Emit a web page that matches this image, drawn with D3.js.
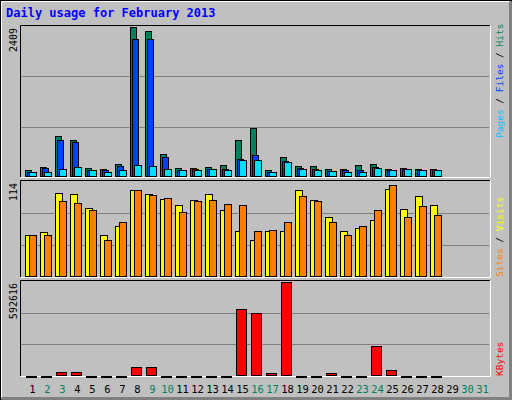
<!DOCTYPE html>
<html><head><meta charset="utf-8">
<script src="https://cdn.jsdelivr.net/npm/d3@7"></script>
<style>body{margin:0;background:#fff}svg text{font-family:"DejaVu Sans Mono",monospace}</style>
</head><body>
<svg id="c" width="512" height="400"></svg>
<script>
const days = d3.range(1, 32);
const weekend = [2,3,9,10,16,17,23,24,30,31];
const hits  = [112,160,660,595,145,128,210,2409,2345,370,145,145,160,193,595,787,112,321,177,177,128,128,193,210,128,145,128,128];
const files = [85,140,595,562,112,112,177,2216,2216,321,112,128,128,128,290,353,85,257,145,128,96,112,112,160,112,128,112,112];
const pages = [80,80,128,160,112,80,112,193,177,128,112,112,128,112,273,273,80,241,128,112,96,80,80,145,112,128,112,112];
const visits = [51,54,101,100,83,50,61,105,100,94,86,92,100,80,55,45,55,55,105,92,72,55,59,68,106,82,97,86];
const sites  = [50,50,91,89,80,45,66,105,99,95,78,91,93,88,87,55,57,66,97,91,66,50,61,80,110,72,85,75];
const kbytes = [2000,2000,25800,25800,2000,2000,2000,58000,58000,2000,2000,2000,2000,2000,425000,399000,19300,592616,2000,2000,19300,2000,2000,186800,38600,2000,2000,2000];
const maxHits = 2409, maxVisits = 114, maxKB = 592616;

const svg = d3.select("#c");
svg.append("rect").attr("x",0).attr("y",0).attr("width",512).attr("height",400).attr("fill","#c0c0c0");
svg.append("rect").attr("x",0.5).attr("y",0.5).attr("width",511).attr("height",399).attr("fill","none").attr("stroke","#000");
svg.append("path").attr("d","M1.5,398.5V1.5H510.5").attr("stroke","#fff").attr("fill","none");
svg.append("path").attr("d","M1.5,398.5H510.5V1.5").attr("stroke","#808080").attr("stroke-width",3).attr("fill","none");
svg.append("text").attr("x",6).attr("y",17).attr("fill","#0000ff").attr("font-weight","bold").attr("font-size",12).text("Daily usage for February 2013");

const x = d3.scaleBand().domain(days).range([25,490]);
function panel(y0,y1,max,label){
  const y = d3.scaleLinear().domain([0,max]).range([y1,y0+2]);
  svg.append("rect").attr("x",20).attr("y",y0).attr("width",470).attr("height",y1-y0).attr("fill","#c0c0c0");
  const g = [1,2].map(i=>y1-(y1-y0-1)*i/3);
  g.forEach(v=>svg.append("line").attr("x1",21).attr("x2",489).attr("y1",Math.round(v)+0.5).attr("y2",Math.round(v)+0.5).attr("stroke","#808080"));
  svg.append("path").attr("d",`M20.5,${y1}V${y0+0.5}H490`).attr("stroke","#000").attr("fill","none");
  svg.append("path").attr("d",`M20.5,${y1+0.5}H490.5V${y0}`).attr("stroke","#fff").attr("fill","none");
  svg.append("text").attr("transform",`translate(17,${y0+3}) rotate(-90)`).attr("text-anchor","end").attr("font-size",10).attr("fill","#000").text(label);
  return y;
}
function bars(arr,y,y1,off,w,color){
  svg.append("g").selectAll("rect").data(arr).join("rect")
    .attr("x",(d,i)=>Math.round(x(i+1))+off+0.5).attr("width",w)
    .attr("y",d=>Math.round(y(d))+0.5).attr("height",d=>Math.max(1,y1-Math.round(y(d))-1))
    .attr("fill",color).attr("stroke","#000").attr("shape-rendering","crispEdges");
}
const yt = panel(25,177,maxHits,String(maxHits));
bars(hits,yt,177,0,6,"#00805c");
bars(files,yt,177,2,6,"#0040ff");
bars(pages,yt,177,4,7,"#00e0ff");
const ym = panel(180,277,maxVisits,String(maxVisits));
bars(visits,ym,277,0,7,"#ffff00");
bars(sites,ym,277,4,7,"#ff8000");
const yb = panel(280,376,maxKB,String(maxKB));
bars(kbytes,yb,376,1,10,"#ff0000");

function rlab(y,parts){
  const t = svg.append("text").attr("transform",`translate(503,${y}) rotate(-90)`).attr("font-size",9.5);
  parts.forEach(p=>t.append("tspan").attr("fill",p[1]).text(p[0]));
}
rlab(138,[["Pages","#00c0ff"],[" / ","#000"],["Files","#0040ff"],[" / ","#000"],["Hits","#00805c"]]);
rlab(277,[["Sites","#ff8000"],[" / ","#000"],["Visits","#ffff00"]]);
rlab(376,[["KBytes","#ff0000"]]);

svg.append("g").selectAll("text").data(days).join("text")
  .attr("x",d=>x(d)+x.bandwidth()/2).attr("y",393).attr("text-anchor","middle").attr("font-size",10.5)
  .attr("fill",d=>weekend.includes(d)?"#00805c":"#000").text(d=>d);
</script>
</body></html>
